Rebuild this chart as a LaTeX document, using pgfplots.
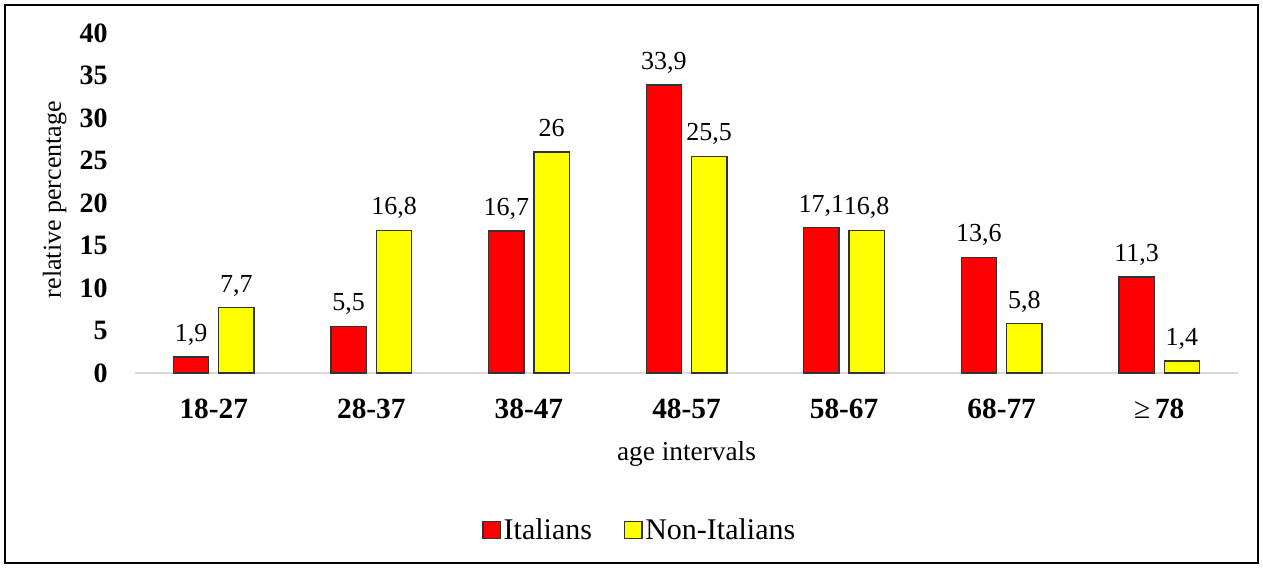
\documentclass[border=0pt]{standalone}
\usepackage{fontspec}
\setmainfont{Liberation Serif}
\usepackage{pgfplots}
\pgfplotsset{compat=1.18}
\definecolor{itred}{RGB}{255,0,0}
\definecolor{nonyel}{RGB}{255,255,0}
\definecolor{baseline}{RGB}{217,217,217}

\begin{document}
\begin{tikzpicture}
\useasboundingbox (-101.25pt,-146.25pt) rectangle (846pt,279.75pt);
\begin{axis}[
  at={(0,0)}, anchor=south west,
  scale only axis, width=827.25pt, height=255pt,
  ymin=0, ymax=40, xmin=-0.5, xmax=6.5,
  ybar, bar width=26.5pt,
  ytick={0,5,...,40}, xtick={0,...,6},
  xticklabels={18-27,28-37,38-47,48-57,58-67,68-77,{\mdseries≥}\,78},
  major tick length=0pt,
  axis x line*=bottom, axis y line*=left,
  x axis line style={draw=baseline, line width=1.1pt},
  y axis line style={draw=none},
  /pgf/number format/assume math mode=true,
  /pgf/number format/use comma,
  /pgf/number format/fixed,
  /pgf/number format/precision=1,
  yticklabel style={font=\bfseries\fontsize{21}{21}\selectfont, inner sep=0pt, anchor=east, xshift=-20.25pt},
  xticklabel style={font=\bfseries\fontsize{22}{22}\selectfont, inner sep=0pt, anchor=base, yshift=-33.75pt},
  xlabel={age intervals},
  xlabel style={at={(axis description cs:0.5,-0.2588)}, anchor=base, inner sep=0pt, font=\fontsize{20.5}{20.5}\selectfont},
  ylabel={relative percentage},
  ylabel style={at={(axis description cs:-0.0671,0.51)}, anchor=base, inner sep=0pt, font=\fontsize{19.5}{19.5}\selectfont},
  nodes near coords,
  every node near coord/.append style={font=\fontsize{19.5}{19.5}\selectfont, anchor=base, yshift=11.6pt, inner sep=0pt, text=black},
  legend style={draw=none, fill=none, at={(axis description cs:0.458,-0.462)}, anchor=center,
    legend columns=-1, font=\fontsize{22.5}{22.5}\selectfont,
    /tikz/every even column/.append style={column sep=22pt}},
  legend image code/.code={\draw[#1] (0pt,-6.5pt) rectangle (13pt,6.5pt);},
]
\addplot[fill=itred, draw=black!80, line width=1pt, bar shift=-17pt]
  coordinates {(0,1.9) (1,5.5) (2,16.7) (3,33.9) (4,17.1) (5,13.6) (6,11.3)};
\addplot[fill=nonyel, draw=black!80, line width=1pt, bar shift=17pt]
  coordinates {(0,7.7) (1,16.8) (2,26) (3,25.5) (4,16.8) (5,5.8) (6,1.4)};
\legend{Italians, Non-Italians}
\end{axis}
\draw[line width=1.5pt] (-97.5pt,-142.5pt) rectangle (842.25pt,276pt);
\end{tikzpicture}
\end{document}
